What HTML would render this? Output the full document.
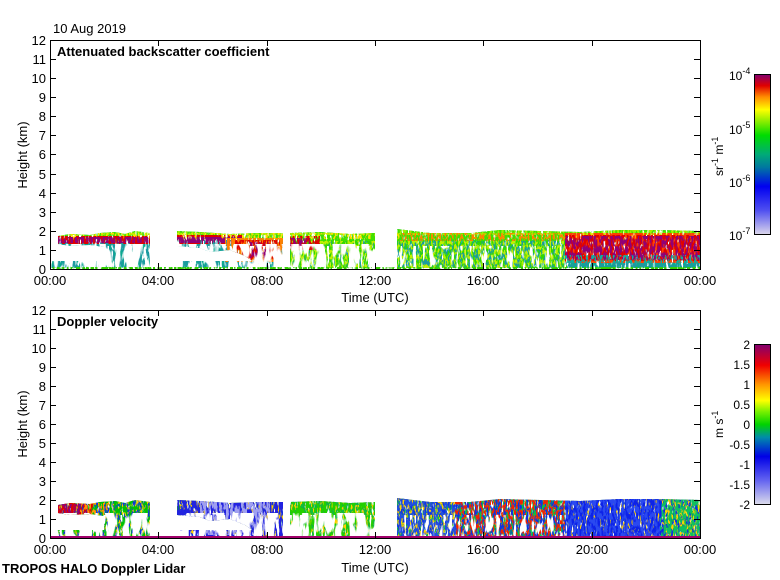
<!DOCTYPE html>
<html><head><meta charset="utf-8"><style>
body{margin:0;background:#fff;width:780px;height:580px;overflow:hidden}
svg{position:absolute;left:0;top:0;font-family:"Liberation Sans",sans-serif}
</style></head><body>
<svg width="780" height="580" viewBox="0 0 780 580" xmlns="http://www.w3.org/2000/svg">
<defs>
<filter id="n1" x="0" y="0" width="1" height="1"><feTurbulence type="fractalNoise" baseFrequency="0.45 0.12" numOctaves="2" seed="3" result="t"/><feColorMatrix in="t" type="matrix" values="0 0 0 0 0 0 0 0 0 0 0 0 0 0 0 12 0 0 0 -5.2" result="m"/><feComposite in="SourceGraphic" in2="m" operator="in"/></filter>
<filter id="n2" x="0" y="0" width="1" height="1"><feTurbulence type="fractalNoise" baseFrequency="0.5 0.15" numOctaves="2" seed="11" result="t"/><feColorMatrix in="t" type="matrix" values="0 0 0 0 0 0 0 0 0 0 0 0 0 0 0 12 0 0 0 -5.6" result="m"/><feComposite in="SourceGraphic" in2="m" operator="in"/></filter>
<filter id="n3" x="0" y="0" width="1" height="1"><feTurbulence type="fractalNoise" baseFrequency="0.6 0.2" numOctaves="2" seed="27" result="t"/><feColorMatrix in="t" type="matrix" values="0 0 0 0 0 0 0 0 0 0 0 0 0 0 0 12 0 0 0 -6" result="m"/><feComposite in="SourceGraphic" in2="m" operator="in"/></filter>
<filter id="n4" x="0" y="0" width="1" height="1"><feTurbulence type="fractalNoise" baseFrequency="0.5 0.1" numOctaves="2" seed="41" result="t"/><feColorMatrix in="t" type="matrix" values="0 0 0 0 0 0 0 0 0 0 0 0 0 0 0 12 0 0 0 -4.6" result="m"/><feComposite in="SourceGraphic" in2="m" operator="in"/></filter>
<filter id="h1" x="0" y="0" width="1" height="1"><feTurbulence type="fractalNoise" baseFrequency="0.12 0.04" numOctaves="2" seed="5" result="t"/><feColorMatrix in="t" type="matrix" values="0 0 0 0 0 0 0 0 0 0 0 0 0 0 0 14 0 0 0 -6.3" result="m"/><feComposite in="SourceGraphic" in2="m" operator="in"/></filter>
<filter id="h2" x="0" y="0" width="1" height="1"><feTurbulence type="fractalNoise" baseFrequency="0.3 0.06" numOctaves="2" seed="17" result="t"/><feColorMatrix in="t" type="matrix" values="0 0 0 0 0 0 0 0 0 0 0 0 0 0 0 14 0 0 0 -7.6" result="m"/><feComposite in="SourceGraphic" in2="m" operator="in"/></filter>
<path id="cl" d="M58,236 L70,234 L90,235 L100,233 L115,232 L125,234 L135,231 L150,233 L150,268 L104,268 L104,247 L90,245 L70,246 L58,244 Z M177,231 L200,232 L230,234 L260,233 L283,233 L283,268 L262,268 L245,256 L230,250 L210,252 L200,248 L177,246 Z M290,233 L320,232 L350,234 L375,233 L375,268 L290,268 Z M397,229 L430,233 L470,233 L500,230 L540,231 L580,232 L620,230 L660,230 L700,231 L700,268 L397,268 Z M50,261 L700,261 L700,268 L50,268 Z"/>
<clipPath id="c1"><use href="#cl"/></clipPath>
<clipPath id="c2"><use href="#cl" transform="translate(0,269)"/></clipPath>
<linearGradient id="gb" x1="0" y1="0" x2="0" y2="1">
<stop offset="0" stop-color="#820070"/><stop offset="0.07" stop-color="#e00000"/><stop offset="0.14" stop-color="#ff8c00"/><stop offset="0.22" stop-color="#ffff00"/><stop offset="0.28" stop-color="#a0f000"/><stop offset="0.38" stop-color="#00dc00"/><stop offset="0.5" stop-color="#00aa78"/><stop offset="0.58" stop-color="#0078a0"/><stop offset="0.7" stop-color="#0000f0"/><stop offset="0.85" stop-color="#5050f0"/><stop offset="1" stop-color="#dcd7eb"/></linearGradient>
<linearGradient id="gv" x1="0" y1="0" x2="0" y2="1">
<stop offset="0" stop-color="#820070"/><stop offset="0.13" stop-color="#f00000"/><stop offset="0.25" stop-color="#ff9600"/><stop offset="0.35" stop-color="#ffff00"/><stop offset="0.42" stop-color="#78f000"/><stop offset="0.5" stop-color="#00d200"/><stop offset="0.58" stop-color="#008caa"/><stop offset="0.7" stop-color="#0000e6"/><stop offset="0.85" stop-color="#6464f0"/><stop offset="1" stop-color="#dcdceb"/></linearGradient>
</defs>

<g clip-path="url(#c1)">
<rect x="50" y="225" width="650" height="44" fill="#10a890" filter="url(#n4)"/>
<rect x="50" y="240" width="650" height="29" fill="#1a9aa0" filter="url(#n1)"/>
<rect x="290" y="233" width="85" height="36" fill="#30d800" filter="url(#n4)"/>
<rect x="397" y="233" width="170" height="36" fill="#30d800" filter="url(#n2)"/>
<rect x="290" y="233" width="275" height="36" fill="#c0f000" filter="url(#n3)"/>
<rect x="50" y="225" width="650" height="16" fill="#40e000" filter="url(#n4)"/>
<rect x="50" y="225" width="650" height="10" fill="#a0f000" filter="url(#n2)"/>
<rect x="50" y="233" width="650" height="6" fill="#ffe000" filter="url(#n3)"/>
<rect x="58" y="236" width="92" height="8" fill="#e00000" filter="url(#n4)"/>
<rect x="58" y="237" width="92" height="6" fill="#900078" filter="url(#n1)"/>
<rect x="177" y="235" width="65" height="9" fill="#e00000" filter="url(#n4)"/>
<rect x="177" y="237" width="65" height="6" fill="#900078" filter="url(#n4)"/>
<rect x="225" y="238" width="58" height="24" fill="#ff8000" filter="url(#n4)"/>
<rect x="235" y="240" width="45" height="20" fill="#e00000" filter="url(#n1)"/>
<rect x="250" y="242" width="20" height="16" fill="#900078" filter="url(#n2)"/>
<rect x="290" y="236" width="30" height="14" fill="#e00000" filter="url(#n1)"/>
<rect x="290" y="238" width="20" height="8" fill="#900078" filter="url(#n2)"/>
<rect x="400" y="233" width="165" height="8" fill="#ff8000" filter="url(#n3)"/>
<rect x="565" y="233" width="135" height="30" fill="#ff4000" filter="url(#n4)"/>
<rect x="565" y="235" width="135" height="26" fill="#e00000" filter="url(#n1)"/>
<rect x="565" y="236" width="135" height="24" fill="#900078" filter="url(#n2)"/>
<rect x="565" y="255" width="135" height="8" fill="#10b0a0" filter="url(#n3)"/>
<rect x="50" y="244" width="340" height="25" fill="#fff" filter="url(#h1)"/>
<rect x="50" y="246" width="520" height="23" fill="#fff" filter="url(#h2)"/>
<rect x="150" y="258" width="30" height="11" fill="#fff"/>
<rect x="375" y="258" width="22" height="11" fill="#fff"/>
<rect x="283" y="258" width="7" height="11" fill="#fff"/>
</g>
<rect x="51" y="267" width="649" height="2" fill="#30d000" filter="url(#n1)"/>

<g clip-path="url(#c2)">
<rect x="50" y="495" width="650" height="44" fill="#10c040" filter="url(#n4)"/>
<rect x="50" y="495" width="650" height="44" fill="#1030e0" filter="url(#n1)"/>
<rect x="50" y="495" width="650" height="44" fill="#ffd000" filter="url(#n3)"/>
<rect x="50" y="495" width="130" height="44" fill="#00c000" filter="url(#n2)"/>
<rect x="177" y="495" width="110" height="44" fill="#2020e0" filter="url(#n4)"/>
<rect x="200" y="495" width="70" height="40" fill="#a0a0f0" filter="url(#n1)"/>
<rect x="290" y="495" width="85" height="44" fill="#20d000" filter="url(#n1)"/>
<rect x="397" y="495" width="60" height="44" fill="#2050e0" filter="url(#n2)"/>
<rect x="455" y="495" width="110" height="44" fill="#f02000" filter="url(#n3)"/>
<rect x="565" y="495" width="100" height="44" fill="#1020e8" filter="url(#n4)"/>
<rect x="565" y="495" width="100" height="44" fill="#2a4af0" filter="url(#n2)"/>
<rect x="660" y="495" width="40" height="44" fill="#10c060" filter="url(#n2)"/>
<rect x="58" y="503" width="35" height="12" fill="#e00000" filter="url(#n4)"/>
<rect x="58" y="504" width="30" height="10" fill="#900078" filter="url(#n2)"/>
<rect x="80" y="503" width="30" height="12" fill="#ff9600" filter="url(#n3)"/>
<rect x="50" y="513" width="340" height="25" fill="#fff" filter="url(#h1)"/>
<rect x="50" y="515" width="520" height="23" fill="#fff" filter="url(#h2)"/>
<rect x="150" y="527" width="30" height="11" fill="#fff"/>
<rect x="375" y="527" width="22" height="11" fill="#fff"/>
<rect x="283" y="527" width="7" height="11" fill="#fff"/>
</g>
<rect x="51" y="536" width="649" height="2" fill="#a0006a"/>

<g fill="none" stroke="#000" stroke-width="1">
<rect x="50.5" y="40.5" width="650" height="229"/>
<rect x="50.5" y="310.5" width="650" height="228"/>
<path d="M50,250.5h6M50,231.5h6M50,212.5h6M50,193.5h6M50,174.5h6M50,154.5h6M50,135.5h6M50,116.5h6M50,97.5h6M50,78.5h6M50,59.5h6
M700,250.5h-6M700,231.5h-6M700,212.5h-6M700,193.5h-6M700,174.5h-6M700,154.5h-6M700,135.5h-6M700,116.5h-6M700,97.5h-6M700,78.5h-6M700,59.5h-6
M158.5,40v6M267.5,40v6M375.5,40v6M483.5,40v6M592.5,40v6M158.5,269v-6M267.5,269v-6M375.5,269v-6M483.5,269v-6M592.5,269v-6
M50,519.5h6M50,500.5h6M50,481.5h6M50,462.5h6M50,443.5h6M50,424.5h6M50,405.5h6M50,386.5h6M50,367.5h6M50,348.5h6M50,329.5h6
M700,519.5h-6M700,500.5h-6M700,481.5h-6M700,462.5h-6M700,443.5h-6M700,424.5h-6M700,405.5h-6M700,386.5h-6M700,367.5h-6M700,348.5h-6M700,329.5h-6
M158.5,310v6M267.5,310v6M375.5,310v6M483.5,310v6M592.5,310v6M158.5,538v-6M267.5,538v-6M375.5,538v-6M483.5,538v-6M592.5,538v-6"/>
</g>
<g font-size="13" fill="#000" text-anchor="end">
<text x="46" y="274">0</text><text x="46" y="255">1</text><text x="46" y="236">2</text><text x="46" y="217">3</text><text x="46" y="198">4</text><text x="46" y="179">5</text><text x="46" y="159">6</text><text x="46" y="140">7</text><text x="46" y="121">8</text><text x="46" y="102">9</text><text x="46" y="83">10</text><text x="46" y="64">11</text><text x="46" y="45">12</text>
<text x="46" y="543">0</text><text x="46" y="524">1</text><text x="46" y="505">2</text><text x="46" y="486">3</text><text x="46" y="467">4</text><text x="46" y="448">5</text><text x="46" y="429">6</text><text x="46" y="410">7</text><text x="46" y="391">8</text><text x="46" y="372">9</text><text x="46" y="353">10</text><text x="46" y="334">11</text><text x="46" y="315">12</text>
</g>
<g font-size="13" fill="#000" text-anchor="middle">
<text x="50" y="285">00:00</text><text x="158" y="285">04:00</text><text x="267" y="285">08:00</text><text x="375" y="285">12:00</text><text x="483" y="285">16:00</text><text x="592" y="285">20:00</text><text x="700" y="285">00:00</text>
<text x="375" y="302">Time (UTC)</text>
<text x="50" y="554">00:00</text><text x="158" y="554">04:00</text><text x="267" y="554">08:00</text><text x="375" y="554">12:00</text><text x="483" y="554">16:00</text><text x="592" y="554">20:00</text><text x="700" y="554">00:00</text>
<text x="375" y="572">Time (UTC)</text>
<text transform="translate(27,155) rotate(-90)">Height (km)</text>
<text transform="translate(27,424) rotate(-90)">Height (km)</text>
</g>
<text x="53" y="33" font-size="13">10 Aug 2019</text>
<text x="57" y="56" font-size="13" font-weight="bold">Attenuated backscatter coefficient</text>
<text x="57" y="326" font-size="13" font-weight="bold">Doppler velocity</text>
<text x="2" y="573" font-size="13" font-weight="bold">TROPOS HALO Doppler Lidar</text>

<rect x="754.5" y="74.5" width="16" height="160" fill="url(#gb)" stroke="#000"/>
<rect x="754.5" y="344.5" width="16" height="160" fill="url(#gv)" stroke="#000"/>
<g font-size="12" fill="#000">
<text x="729" y="80">10<tspan font-size="9" dy="-6">-4</tspan></text>
<text x="729" y="134">10<tspan font-size="9" dy="-6">-5</tspan></text>
<text x="729" y="187">10<tspan font-size="9" dy="-6">-6</tspan></text>
<text x="729" y="240">10<tspan font-size="9" dy="-6">-7</tspan></text>
<g text-anchor="end"><text x="750" y="349">2</text><text x="750" y="369">1.5</text><text x="750" y="389">1</text><text x="750" y="409">0.5</text><text x="750" y="429">0</text><text x="750" y="449">-0.5</text><text x="750" y="469">-1</text><text x="750" y="489">-1.5</text><text x="750" y="509">-2</text></g>
<text transform="translate(723,176) rotate(-90)">sr<tspan font-size="9" dy="-5">-1</tspan><tspan dy="5"> m</tspan><tspan font-size="9" dy="-5">-1</tspan></text>
<text transform="translate(723,438) rotate(-90)">m  s<tspan font-size="9" dy="-5">-1</tspan></text>
</g>
</svg>
</body></html>
